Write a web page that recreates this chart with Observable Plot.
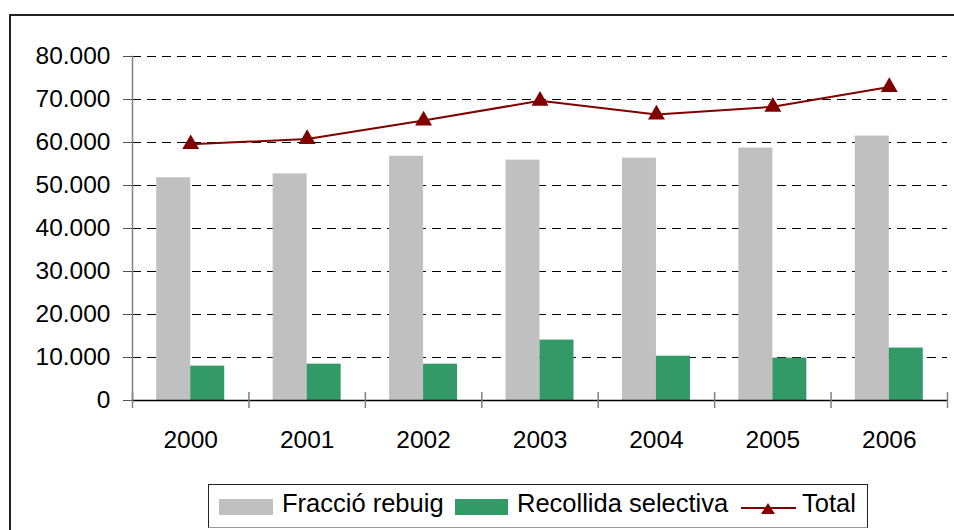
<!DOCTYPE html>
<html>
<head>
<meta charset="utf-8">
<script src="https://cdn.jsdelivr.net/npm/d3@7"></script>
<script src="https://cdn.jsdelivr.net/npm/@observablehq/plot@0.6"></script>
<style>
  html, body { margin: 0; padding: 0; background: #fff; }
  body { width: 954px; height: 530px; position: relative; overflow: hidden; font-family: "Liberation Sans", Arial, sans-serif; }
  #frame { position: absolute; left: 9px; top: 14px; width: 1000px; height: 600px; border-left: 2px solid #222; border-top: 2px solid #222; box-sizing: border-box; }
  #chart { position: absolute; left: 0; top: 0; }
  #legend { position: absolute; left: 208px; top: 484px; width: 660px; height: 44px; border: 1px solid #222; border-bottom-color: #999; box-sizing: border-box; background: #fff; }
  .sw { position: absolute; height: 16px; top: 499px; }
  .lt { position: absolute; font-size: 25.5px; line-height: 25.5px; top: 491px; color: #000; white-space: nowrap; }
</style>
</head>
<body>
<div id="frame"></div>
<div id="chart"></div>
<div id="legend"></div>
<div class="sw" style="left:219px;width:54px;background:#C0C0C0"></div>
<div class="lt" id="l1" style="left:282px"></div>
<div class="sw" style="left:455px;width:53px;background:#339966"></div>
<div class="lt" id="l2" style="left:517px"></div>
<svg style="position:absolute;left:741px;top:500px" width="56" height="16">
  <line x1="0" y1="8" x2="55" y2="8" stroke="#800000" stroke-width="2"></line>
  <path d="M27,3 L34,14 L20,14 Z" fill="#800000"></path>
</svg>
<div class="lt" id="l3" style="left:802px"></div>
<script>
const years = ["2000", "2001", "2002", "2003", "2004", "2005", "2006"];
const rebuig = [51800, 52700, 56800, 55900, 56350, 58700, 61500];
const selectiva = [8000, 8450, 8450, 14050, 10300, 9850, 12200];
const total = [59600, 60800, 65100, 69700, 66500, 68300, 72900];
const yTicks = [0, 10000, 20000, 30000, 40000, 50000, 60000, 70000, 80000];
const seriesNames = ["Fracció rebuig", "Recollida selectiva", "Total"];
const colors = ["#C0C0C0", "#339966", "#800000"];

document.getElementById("l1").textContent = seriesNames[0];
document.getElementById("l2").textContent = seriesNames[1];
document.getElementById("l3").textContent = seriesNames[2];

const data = years.map((y, i) => ({year: y, rebuig: rebuig[i], selectiva: selectiva[i], total: total[i]}));

const W = 954, H = 530;
const mL = 132, mR = 7, mT = 56, mB = 130;
const step = (W - mL - mR) / years.length;
const fmt = d => d3.format(",")(d).replace(/,/g, ".");

const chart = Plot.plot({
  width: W,
  height: H,
  marginLeft: mL,
  marginRight: mR,
  marginTop: mT,
  marginBottom: mB,
  style: {fontFamily: "'Liberation Sans', Arial, sans-serif", background: "transparent", overflow: "visible"},
  x: {type: "band", domain: years, paddingInner: 0.416, paddingOuter: 0.208, align: 0.5, round: false, label: null},
  y: {domain: [0, 80000], label: null},
  marks: [
    Plot.ruleY(yTicks.filter(d => d > 0), {stroke: "#000", strokeWidth: 1, strokeDasharray: "9,6"}),
    Plot.barY(data, {x: "year", y: "rebuig", fill: colors[0], insetRight: (step * 0.584) / 2}),
    Plot.barY(data, {x: "year", y: "selectiva", fill: colors[1], insetLeft: (step * 0.584) / 2}),
    Plot.frame({anchor: "left", stroke: "#808080", strokeWidth: 1.5}),
    Plot.ruleY([0], {stroke: "#000", strokeWidth: 1.5}),
    Plot.ruleX(data, {x: "year", y1: 0, y2: 0, dx: -step / 2, insetTop: -8, insetBottom: -8, stroke: "#808080", strokeWidth: 1.5}),
    Plot.ruleX(data.slice(-1), {x: "year", y1: 0, y2: 0, dx: step / 2, insetTop: -8, insetBottom: -8, stroke: "#808080", strokeWidth: 1.5}),
    Plot.axisY({ticks: yTicks, tickFormat: fmt, tickSize: 9, tickPadding: 13, fontSize: 24.5, stroke: "#555", color: "#000"}),
    Plot.axisX({tickSize: 0, tickPadding: 30, fontSize: 24.5, color: "#000"}),
    Plot.line(data, {x: "year", y: "total", stroke: colors[2], strokeWidth: 2}),
    Plot.dot(data, {x: "year", y: "total", symbol: "triangle", r: 6.3, fill: colors[2], stroke: "none"})
  ]
});
document.getElementById("chart").appendChild(chart);
</script>
</body>
</html>
